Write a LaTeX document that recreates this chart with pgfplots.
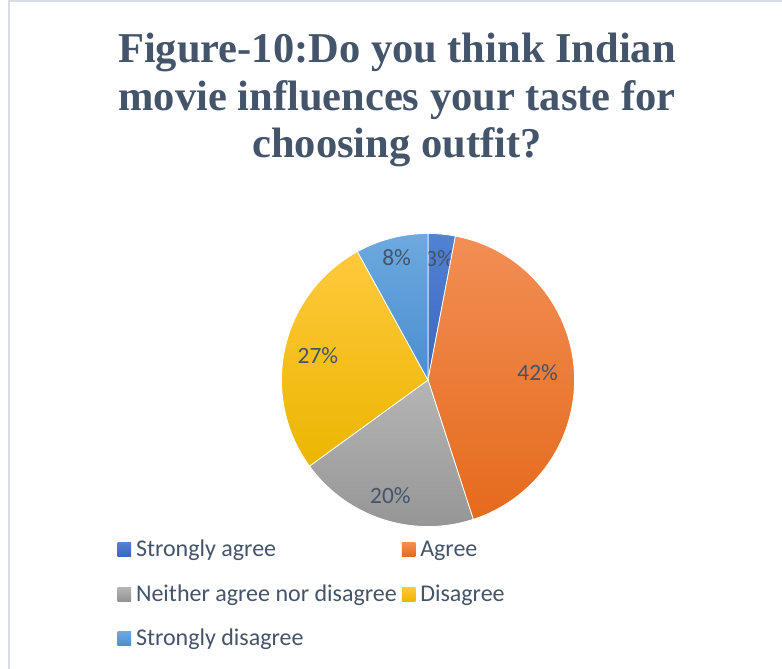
\documentclass[border=0pt]{standalone}
\usepackage{fontspec}
\setmainfont{Liberation Serif}
\newfontfamily\carlito{Carlito}
\usepackage{pgfplots}
\usepackage{pgfplotstable}
\pgfplotsset{compat=1.18}

\definecolor{txt}{HTML}{44546A}
\definecolor{frame}{HTML}{D9DEE5}
% top / bottom gradient colours of the slices
\definecolor{pt0}{HTML}{5282D3}\definecolor{pb0}{HTML}{3B66C1}
\definecolor{pt1}{HTML}{F28E55}\definecolor{pb1}{HTML}{E56A1C}
\definecolor{pt2}{HTML}{B5B5B5}\definecolor{pb2}{HTML}{939393}
\definecolor{pt3}{HTML}{FFC93D}\definecolor{pb3}{HTML}{EBB600}
\definecolor{pt4}{HTML}{6DA9DF}\definecolor{pb4}{HTML}{4A8ECF}

% share (%) and radius of the data label
\pgfplotstableread{
value labr
3  0.83
42 0.75
20 0.83
27 0.77
8  0.86
}\piedata

\begin{document}
\begin{tikzpicture}[x=1pt,y=1pt]
\useasboundingbox (0,0) rectangle (782,669);
\fill[white] (0,0) rectangle (782,669);
\draw[frame, line width=2pt] (8.5,0) -- (8.5,667.5) -- (782,667.5);

\tikzset{ttl/.style={anchor=base, text=txt, font=\bfseries\fontsize{42.5}{47}\selectfont}}
\node[ttl] at (397,606) {Figure-10:Do you think Indian};
\node[ttl] at (397,558.5) {movie influences your taste for};
\node[ttl] at (397,511) {choosing outfit?};

\begin{axis}[
  at={(428pt,289pt)}, anchor=center,
  width=293pt, height=293pt, scale only axis,
  xmin=-1, xmax=1, ymin=-1, ymax=1,
  hide axis, clip=false,
  legend columns=2,
  legend image code/.code={\path[#1, draw=none, shade] (0pt,0pt) rectangle (13.5pt,14pt);},
  legend style={
    at={(-0.5597,-0.045)}, anchor=north west,
    draw=none, fill=none, inner sep=0pt, outer sep=0pt,
    font=\carlito\fontsize{24}{28}\selectfont, text=txt,
    cells={anchor=base west},
    nodes={inner sep=0pt, text height=17pt, text depth=6pt},
    /tikz/column sep=5pt, /tikz/row sep=21.5pt,
  },
]
\pgfplotstablegetrowsof{\piedata}
\pgfmathtruncatemacro\lastrow{\pgfplotsretval-1}
\gdef\angA{90}
\pgfplotsinvokeforeach{0,...,\lastrow}{
  \pgfplotstablegetelem{#1}{value}\of\piedata
  \pgfmathsetmacro\angB{\angA-3.6*\pgfplotsretval}
  \pgfmathsetmacro\angM{(\angA+\angB)/2}
  \pgfplotstablegetelem{#1}{labr}\of\piedata
  \let\labr\pgfplotsretval
  \pgfplotstablegetelem{#1}{value}\of\piedata
  \edef\temp{%
    \noexpand\shadedraw[top color=pt#1, bottom color=pb#1, draw=white, line width=0.75pt]
      (axis cs:0,0) -- (axis cs:{cos(\angA)},{sin(\angA)})
      arc[start angle=\angA, end angle=\angB, radius=146.5pt] -- cycle;
    \noexpand\node[text=txt, font=\noexpand\carlito\noexpand\fontsize{23.4}{26}\noexpand\selectfont]
      at (axis cs:{\labr*cos(\angM)},{\labr*sin(\angM)}) {\pgfplotsretval\noexpand\%};
  }%
  \temp
  \global\let\angA\angB
}
\addlegendimage{top color=pt0, bottom color=pb0}
\addlegendentry{Strongly agree}
\addlegendimage{top color=pt1, bottom color=pb1}
\addlegendentry{Agree}
\addlegendimage{top color=pt2, bottom color=pb2}
\addlegendentry{Neither agree nor disagree}
\addlegendimage{top color=pt3, bottom color=pb3}
\addlegendentry{Disagree}
\addlegendimage{top color=pt4, bottom color=pb4}
\addlegendentry{Strongly disagree}
\end{axis}
\end{tikzpicture}
\end{document}
